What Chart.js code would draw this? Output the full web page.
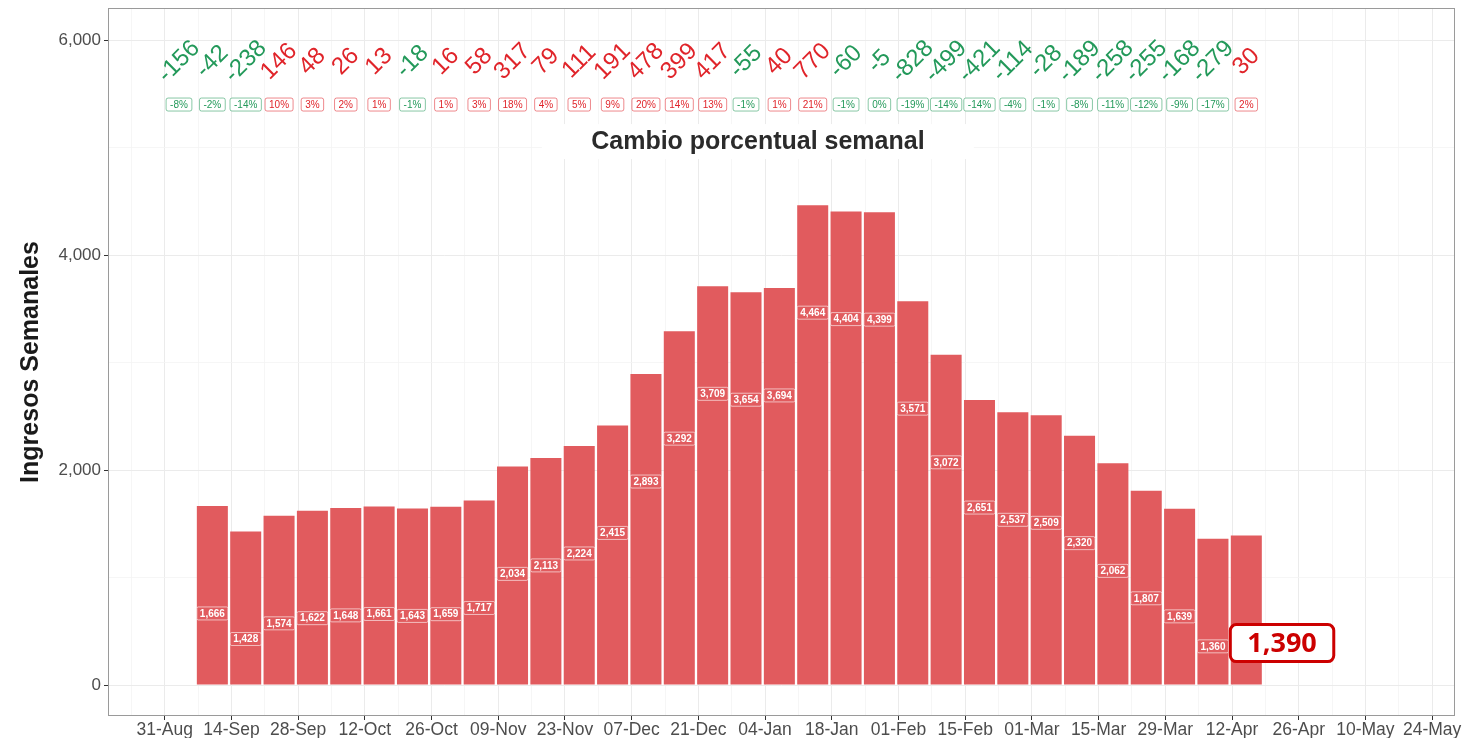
<!DOCTYPE html>
<html>
<head>
<meta charset="utf-8">
<script src="https://cdn.jsdelivr.net/npm/chart.js@4.4.1/dist/chart.umd.min.js"></script>
<style>
  html, body { margin: 0; padding: 0; background: #ffffff; }
  #wrap { width: 1465px; height: 738px; position: relative; }
</style>
</head>
<body>
<div id="wrap"><canvas id="c" width="1465" height="738"></canvas></div>
<script>
// ---- DATA ----
// week dates (Thursdays); the first one only carries a change annotation
const weeks = ['2020-09-03','2020-09-10','2020-09-17','2020-09-24','2020-10-01','2020-10-08','2020-10-15',
  '2020-10-22','2020-10-29','2020-11-05','2020-11-12','2020-11-19','2020-11-26','2020-12-03','2020-12-10',
  '2020-12-17','2020-12-24','2020-12-31','2021-01-07','2021-01-14','2021-01-21','2021-01-28','2021-02-04',
  '2021-02-11','2021-02-18','2021-02-25','2021-03-04','2021-03-11','2021-03-18','2021-03-25','2021-04-01',
  '2021-04-08','2021-04-15'];
const barWeeks = weeks.slice(1);
const weeklyIngresos = [1666,1428,1574,1622,1648,1661,1643,1659,1717,2034,2113,2224,2415,2893,3292,3709,
  3654,3694,4464,4404,4399,3571,3072,2651,2537,2509,2320,2062,1807,1639,1360,1390];
const weeklyChange = [-156,-42,-238,146,48,26,13,-18,16,58,317,79,111,191,478,399,417,-55,40,770,-60,-5,
  -828,-499,-421,-114,-28,-189,-258,-255,-168,-279,30];
const weeklyPct = ['-8%','-2%','-14%','10%','3%','2%','1%','-1%','1%','3%','18%','4%','5%','9%','20%','14%',
  '13%','-1%','1%','21%','-1%','0%','-19%','-14%','-14%','-4%','-1%','-8%','-11%','-12%','-9%','-17%','2%'];
const xTickLabels = ['31-Aug','14-Sep','28-Sep','12-Oct','26-Oct','09-Nov','23-Nov','07-Dec','21-Dec','04-Jan',
  '18-Jan','01-Feb','15-Feb','01-Mar','15-Mar','29-Mar','12-Apr','26-Apr','10-May','24-May'];
const xTickStart = '2020-08-31';
const yTickValues = [0, 2000, 4000, 6000];
const yMinorValues = [1000, 3000, 5000];
const subtitleText = 'Cambio porcentual semanal';
const yTitle = 'Ingresos Semanales';

// ---- helpers ----
const DAY = 86400000;
const t0 = Date.parse(xTickStart + 'T00:00:00Z');
const dayOf = s => Math.round((Date.parse(s + 'T00:00:00Z') - t0) / DAY);
const fmt = v => v.toLocaleString('en-US');

const barData = barWeeks.map((w, i) => ({ x: dayOf(w), y: weeklyIngresos[i] }));
const lastWeek = barData.length - 1;

const RED_BAR = '#E15B5E';
const GREEN = '#23995A';
const RED_TXT = '#E0242A';

function rr(ctx, x, y, w, h, r) {
  ctx.beginPath();
  ctx.moveTo(x + r, y);
  ctx.lineTo(x + w - r, y);
  ctx.arcTo(x + w, y, x + w, y + r, r);
  ctx.lineTo(x + w, y + h - r);
  ctx.arcTo(x + w, y + h, x + w - r, y + h, r);
  ctx.lineTo(x + r, y + h);
  ctx.arcTo(x, y + h, x, y + h - r, r);
  ctx.lineTo(x, y + r);
  ctx.arcTo(x, y, x + r, y, r);
  ctx.closePath();
}

const annotPlugin = {
  id: 'annot',
  afterDatasetsDraw(chart) {
    const ctx = chart.ctx;
    const xs = chart.scales.x, ys = chart.scales.y;
    const ca = chart.chartArea;
    ctx.save();
    ctx.beginPath();
    ctx.rect(ca.left, ca.top, ca.right - ca.left, ca.bottom - ca.top);
    ctx.clip();

    // subtitle label with white background
    const sx = xs.getPixelForValue(124.5), sy = ys.getPixelForValue(5060);
    ctx.fillStyle = '#ffffff';
    ctx.fillRect(sx - 216, sy - 17, 432, 35);
    ctx.font = 'bold 25px "Liberation Sans", Arial, sans-serif';
    ctx.fillStyle = '#2b2b2b';
    ctx.textAlign = 'center';
    ctx.textBaseline = 'middle';
    ctx.fillText(subtitleText, sx, sy + 1);

    // rotated weekly change values
    weeks.forEach((w, i) => {
      const px = xs.getPixelForValue(dayOf(w));
      const py = ys.getPixelForValue(5800);
      const v = weeklyChange[i];
      ctx.save();
      ctx.translate(px, py);
      ctx.rotate(-Math.PI / 4);
      ctx.font = '24px "Liberation Sans", Arial, sans-serif';
      ctx.fillStyle = v > 0 ? RED_TXT : GREEN;
      ctx.textAlign = 'center';
      ctx.textBaseline = 'middle';
      ctx.fillText(String(v), 0, 0);
      ctx.restore();
    });

    // percentage boxes
    ctx.font = '10px "Liberation Sans", Arial, sans-serif';
    weeks.forEach((w, i) => {
      const px = xs.getPixelForValue(dayOf(w));
      const py = ys.getPixelForValue(5400);
      const pos = weeklyChange[i] > 0;
      const txt = weeklyPct[i];
      const tw = ctx.measureText(txt).width;
      const bw = tw + 8, bh = 13;
      rr(ctx, px - bw / 2, py - bh / 2, bw, bh, 2);
      ctx.fillStyle = '#ffffff';
      ctx.fill();
      ctx.lineWidth = 0.9;
      ctx.strokeStyle = pos ? 'rgba(224,36,42,0.6)' : 'rgba(35,153,90,0.6)';
      ctx.stroke();
      ctx.fillStyle = pos ? RED_TXT : GREEN;
      ctx.textAlign = 'center';
      ctx.textBaseline = 'middle';
      ctx.fillText(txt, px, py + 0.5);
    });

    // bar value labels (nudged 1000 below the bar top)
    ctx.font = 'bold 10px "Liberation Sans", Arial, sans-serif';
    barData.forEach((d, i) => {
      if (i === lastWeek) return;
      const px = xs.getPixelForValue(d.x);
      const py = ys.getPixelForValue(d.y - 1000);
      const txt = fmt(d.y);
      const tw = ctx.measureText(txt).width;
      const bw = tw + 6, bh = 13;
      rr(ctx, px - bw / 2, py - bh / 2, bw, bh, 1.5);
      ctx.fillStyle = RED_BAR;
      ctx.fill();
      ctx.lineWidth = 1;
      ctx.strokeStyle = 'rgba(255,255,255,0.6)';
      ctx.stroke();
      ctx.fillStyle = '#ffffff';
      ctx.textAlign = 'center';
      ctx.textBaseline = 'middle';
      ctx.fillText(txt, px, py + 0.5);
    });

    // highlighted last value
    const last = barData[lastWeek];
    const lx = xs.getPixelForValue(last.x + 7.5);
    const ly = ys.getPixelForValue(last.y - 1000);
    ctx.font = 'bold 27px "Open Sans", "Liberation Sans", sans-serif';
    const ltxt = fmt(last.y);
    const ltw = ctx.measureText(ltxt).width;
    const lbw = ltw + 34, lbh = 37;
    rr(ctx, lx - lbw / 2, ly - lbh / 2, lbw, lbh, 6);
    ctx.fillStyle = '#ffffff';
    ctx.fill();
    ctx.lineWidth = 3;
    ctx.strokeStyle = '#CC0000';
    ctx.stroke();
    ctx.fillStyle = '#CC0000';
    ctx.textAlign = 'center';
    ctx.textBaseline = 'middle';
    ctx.fillText(ltxt, lx, ly + 1);
    ctx.restore();

    // panel border
    ctx.save();
    ctx.strokeStyle = '#9a9a9a';
    ctx.lineWidth = 1;
    ctx.strokeRect(Math.round(ca.left) + 0.5, Math.round(ca.top) + 0.5,
      Math.round(ca.right - ca.left) - 1, Math.round(ca.bottom - ca.top) - 1);
    ctx.restore();
  }
};

const xTickDays = [];
for (let d = -7; d <= 270; d += 7) xTickDays.push(d);

new Chart(document.getElementById('c'), {
  type: 'bar',
  data: {
    datasets: [{
      label: yTitle,
      data: barData,
      backgroundColor: RED_BAR,
      borderWidth: 0,
      categoryPercentage: 1,
      barPercentage: 0.93
    }]
  },
  options: {
    responsive: false,
    animation: false,
    devicePixelRatio: 1,
    layout: { padding: { left: 0, right: 10, top: 8, bottom: 0 } },
    plugins: { legend: { display: false }, tooltip: { enabled: false }, title: { display: false } },
    scales: {
      x: {
        type: 'linear',
        offset: false,
        min: -11.9,
        max: 270.8,
        afterBuildTicks: s => { s.ticks = xTickDays.map(v => ({ value: v })); },
        afterFit: s => { s.height = 22; s.paddingLeft = 0; s.paddingRight = 0; },
        border: { display: false },
        grid: {
          offset: false,
          color: c => (c.tick && c.tick.value % 14 === 0) ? '#ebebeb' : '#f4f4f4',
          lineWidth: c => (c.tick && c.tick.value % 14 === 0) ? 1 : 0.8,
          tickLength: 4,
          tickColor: c => (c.tick && c.tick.value % 14 === 0) ? '#333333' : 'rgba(0,0,0,0)',
          tickWidth: 1
        },
        ticks: {
          autoSkip: false,
          maxRotation: 0,
          padding: 0,
          color: '#4d4d4d',
          font: { family: '"Liberation Sans", Arial, sans-serif', size: 17.5 },
          callback: v => (v % 14 === 0 && v >= 0) ? (xTickLabels[v / 14] || '') : ''
        }
      },
      y: {
        min: -288,
        max: 6298,
        afterBuildTicks: s => {
          s.ticks = yTickValues.concat(yMinorValues).sort((a, b) => a - b).map(v => ({ value: v }));
        },
        afterFit: s => { s.width = 108; s.paddingTop = 0; s.paddingBottom = 0; },
        border: { display: false },
        grid: {
          color: c => (c.tick && yTickValues.includes(c.tick.value)) ? '#ebebeb' : '#f4f4f4',
          lineWidth: c => (c.tick && yTickValues.includes(c.tick.value)) ? 1 : 0.8,
          tickLength: 4,
          tickColor: c => (c.tick && yTickValues.includes(c.tick.value)) ? '#333333' : 'rgba(0,0,0,0)',
          tickWidth: 1
        },
        ticks: {
          padding: 3,
          color: '#4d4d4d',
          font: { family: '"Liberation Sans", Arial, sans-serif', size: 17 },
          callback: v => yTickValues.includes(v) ? fmt(v) : ''
        },
        title: {
          display: true,
          text: yTitle,
          color: '#1a1a1a',
          font: { family: '"Liberation Sans", Arial, sans-serif', size: 25, weight: 'bold' },
          padding: { top: 16, bottom: 0 }
        }
      }
    }
  },
  plugins: [annotPlugin]
});
</script>
</body>
</html>
